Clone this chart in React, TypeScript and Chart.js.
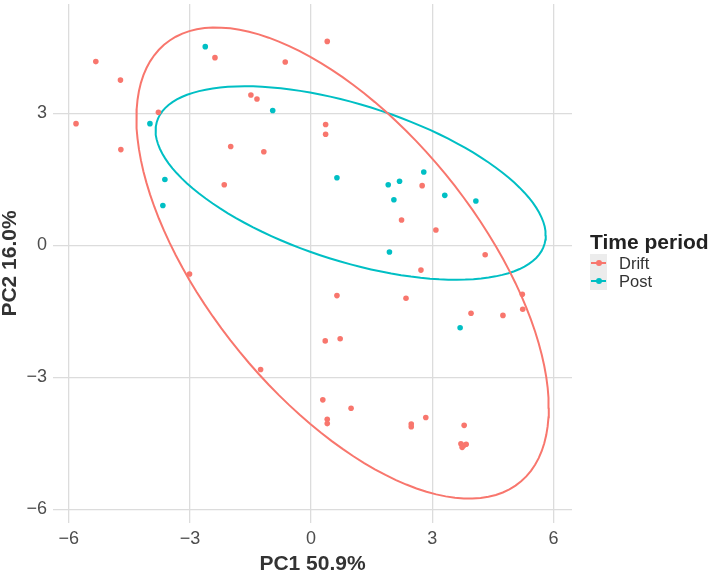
import React, { useEffect, useRef } from "react";
import { Chart, registerables } from "chart.js";

Chart.register(...registerables);

// ---- data ----
const DRIFT_X = [-5.33, -4.72, -3.78, -5.82, -4.71, -2.38, -1.99, -2.15, 0.40, -0.64, -1.49, -1.34, 0.36, 0.36, -1.17, 2.75, 2.24, 3.09, 2.72, 0.64, 2.35, 0.35, 0.72, -1.25, -3.01, 4.31, 5.23, 5.24, 3.96, 4.75, 0.29, 0.99, 0.40, 0.40, 2.48, 2.48, 2.84, 3.79, 3.71, 3.84, 3.74, 3.78];
const DRIFT_Y = [4.18, 3.76, 3.03, 2.77, 2.18, 4.27, 2.25, 1.38, 4.64, 4.17, 3.42, 3.33, 2.75, 2.53, 2.13, 1.36, 0.58, 0.35, -0.56, -1.14, -1.20, -2.17, -2.12, -2.82, -0.65, -0.21, -1.11, -1.45, -1.54, -1.59, -3.51, -3.70, -3.95, -4.05, -4.06, -4.12, -3.91, -4.09, -4.51, -4.52, -4.59, -4.55];
const POST_X = [-2.62, -3.99, -3.62, -3.67, -0.95, 0.64, 1.91, 2.19, 2.79, 3.31, 2.05, 4.08, 1.94, 3.69];
const POST_Y = [4.52, 2.77, 1.50, 0.91, 3.07, 1.54, 1.38, 1.46, 1.67, 1.14, 1.04, 1.01, -0.15, -1.87];

// ellipse parameters: centre and Cholesky factor of the spread [l11, l21, l22]
const DRIFT_ELLIPSE_CENTER = [0.78, -0.40];
const DRIFT_ELLIPSE_SPREAD = [5.105, -3.29, 4.226];
const POST_ELLIPSE_CENTER = [0.98, 1.42];
const POST_ELLIPSE_SPREAD = [4.83, -1.19, 1.85];

const X_TICKS = [-6, -3, 0, 3, 6];
const Y_TICKS = [-6, -3, 0, 3];
const SERIES_NAMES = ["Drift", "Post"];
const LEGEND_TITLE = "Time period";
const X_TITLE = "PC1 50.9%";
const Y_TITLE = "PC2 16.0%";

const RED = "#F8766D";
const TEAL = "#00BFC4";
const FONT = "'Liberation Sans', Arial, Helvetica, sans-serif";

function ellipsePath(center: number[], spread: number[], n = 120) {
  const pts: { x: number; y: number }[] = [];
  for (let i = 0; i <= n; i++) {
    const t = (i / n) * Math.PI * 2;
    const c = Math.cos(t);
    const s = Math.sin(t);
    pts.push({ x: center[0] + spread[0] * c, y: center[1] + spread[1] * c + spread[2] * s });
  }
  return pts;
}

const fmt = (v: number) => (v < 0 ? "\u2212" + Math.abs(v) : String(v));

export default function App() {
  const ref = useRef<HTMLCanvasElement | null>(null);

  useEffect(() => {
    if (!ref.current) return;
    const drift = DRIFT_X.map((x, i) => ({ x, y: DRIFT_Y[i] }));
    const post = POST_X.map((x, i) => ({ x, y: POST_Y[i] }));
    const chart = new Chart(ref.current, {
      type: "scatter",
      data: {
        datasets: [
          {
            label: SERIES_NAMES[0],
            data: drift,
            backgroundColor: RED,
            borderColor: RED,
            pointRadius: 2.8,
            pointBorderWidth: 0,
          },
          {
            label: SERIES_NAMES[1],
            data: post,
            backgroundColor: TEAL,
            borderColor: TEAL,
            pointRadius: 2.8,
            pointBorderWidth: 0,
          },
          {
            label: SERIES_NAMES[0] + " ellipse",
            data: ellipsePath(DRIFT_ELLIPSE_CENTER, DRIFT_ELLIPSE_SPREAD),
            showLine: true,
            borderColor: RED,
            borderWidth: 2,
            pointRadius: 0,
            fill: false,
            tension: 0,
          },
          {
            label: SERIES_NAMES[1] + " ellipse",
            data: ellipsePath(POST_ELLIPSE_CENTER, POST_ELLIPSE_SPREAD),
            showLine: true,
            borderColor: TEAL,
            borderWidth: 2,
            pointRadius: 0,
            fill: false,
            tension: 0,
          },
        ],
      },
      options: {
        responsive: false,
        animation: false,
        devicePixelRatio: 1,
        layout: { padding: { left: 0, right: 137, top: 0, bottom: 0 } },
        plugins: { legend: { display: false }, tooltip: { enabled: false } },
        scales: {
          x: {
            type: "linear",
            min: -6.39,
            max: 6.46,
            afterBuildTicks: (s: any) => {
              s.ticks = X_TICKS.map((v) => ({ value: v }));
            },
            afterFit: (s: any) => {
              s.height = 52;
              s.paddingLeft = 0;
              s.paddingRight = 0;
            },
            grid: { color: "#dcdcdc", lineWidth: 1.3, drawTicks: false },
            border: { display: false },
            ticks: {
              font: { family: FONT, size: 18 },
              color: "#4d4d4d",
              padding: 5,
              maxRotation: 0,
              callback: (v: any) => fmt(Number(v)),
            },
            title: {
              display: true,
              text: X_TITLE,
              font: { family: FONT, size: 21, weight: "bold", lineHeight: 1 },
              color: "#333333",
              padding: { top: 0, bottom: 0 },
            },
          },
          y: {
            type: "linear",
            min: -6.31,
            max: 5.49,
            afterBuildTicks: (s: any) => {
              s.ticks = Y_TICKS.map((v) => ({ value: v }));
            },
            afterFit: (s: any) => {
              s.width = 53;
              s.paddingTop = 0;
              s.paddingBottom = 0;
            },
            grid: { color: "#dcdcdc", lineWidth: 1.3, drawTicks: false },
            border: { display: false },
            ticks: {
              font: { family: FONT, size: 18 },
              color: "#4d4d4d",
              padding: 6,
              callback: (v: any) => fmt(Number(v)),
            },
            title: {
              display: true,
              text: Y_TITLE,
              font: { family: FONT, size: 21, weight: "bold", lineHeight: 1 },
              color: "#333333",
              padding: { top: 0, bottom: 0 },
            },
          },
        },
      },
    } as any);
    return () => chart.destroy();
  }, []);

  const colors = [RED, TEAL];
  return (
    <div style={{ position: "fixed", left: 0, top: 0, width: 709, height: 575, background: "#fff" }}>
      <canvas ref={ref} width={709} height={575} style={{ width: 709, height: 575, display: "block" }} />
      <div
        style={{
          position: "absolute",
          left: 590,
          top: 231,
          fontFamily: FONT,
          fontWeight: "bold",
          fontSize: 21,
          lineHeight: "21px",
          color: "#222",
          whiteSpace: "nowrap",
        }}
      >
        {LEGEND_TITLE}
      </div>
      {SERIES_NAMES.map((name, i) => (
        <div key={name} style={{ position: "absolute", left: 590, top: 254 + i * 18, height: 18, display: "flex", alignItems: "center" }}>
          <div style={{ position: "relative", width: 17, height: 18, background: "#ececec" }}>
            <div style={{ position: "absolute", left: 1, right: 1, top: 8, height: 2, background: colors[i] }} />
            <div style={{ position: "absolute", left: 5.5, top: 6, width: 6, height: 6, borderRadius: 3, background: colors[i] }} />
          </div>
          <span style={{ marginLeft: 12, fontFamily: FONT, fontSize: 16.5, lineHeight: "18px", color: "#333" }}>{name}</span>
        </div>
      ))}
    </div>
  );
}
